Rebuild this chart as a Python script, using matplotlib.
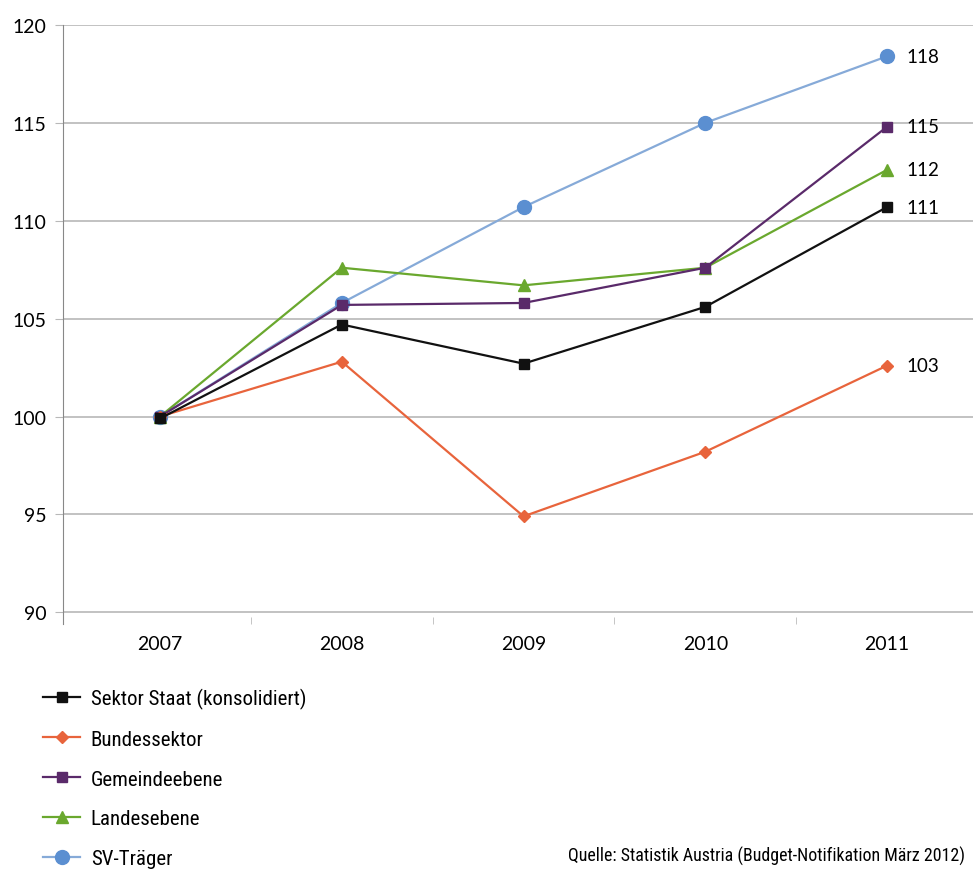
import matplotlib.pyplot as plt
import numpy as np
from matplotlib import font_manager

plt.rcParams['font.family'] = ['Lato', 'DejaVu Sans']

years = ['2007', '2008', '2009', '2010', '2011']
staat = [99.9, 104.7, 102.7, 105.6, 110.7]
bund = [100.0, 102.8, 94.9, 98.2, 102.6]
gemeinde = [100.0, 105.7, 105.8, 107.6, 114.8]
land = [100.0, 107.6, 106.7, 107.6, 112.6]
sv = [100.0, 105.8, 110.7, 115.0, 118.4]
end_labels = ['111', '103', '115', '112', '118']
names = ['Sektor Staat (konsolidiert)', 'Bundessektor', 'Gemeindeebene', 'Landesebene', 'SV-Träger']
source = 'Quelle: Statistik Austria (Budget-Notifikation März 2012)'

# narrow face for legend / source, if one is there
installed = {f.name for f in font_manager.fontManager.ttflist}
narrow = [n for n in ['Liberation Sans Narrow', 'DejaVu Sans Condensed', 'Roboto Condensed',
                      'Open Sans Condensed'] if n in installed]
narrow_fam = narrow + ['Lato', 'DejaVu Sans']

fig = plt.figure(figsize=(9.73, 8.78), dpi=100)
ax = fig.add_axes([63 / 973, 253 / 878, 1 - 63 / 973, (625 - 26) / 878])

x = np.arange(len(years))
series = [
    (staat, dict(color='#111111', marker='s', markersize=7, lw=1.6, zorder=6)),
    (bund, dict(color='#e8643c', marker='D', markersize=6, lw=1.6, zorder=5)),
    (gemeinde, dict(color='#5a2a6a', marker='s', markersize=7, lw=1.6, zorder=4)),
    (land, dict(color='#6aa82e', marker='^', markersize=8, lw=1.6, zorder=3)),
    (sv, dict(color='#86aad8', marker='o', markersize=10, markerfacecolor='#5b8fd1',
              markeredgecolor='#5b8fd1', lw=1.6, zorder=2)),
]
handles = []
for (vals, kw), name, lab in zip(series, names, end_labels):
    h, = ax.plot(x, vals, label=name, **kw)
    handles.append(h)
    ax.annotate(lab, (x[-1], vals[-1]), xytext=(14, 0), textcoords='offset points',
                va='center', ha='left', fontsize=13.5)

ax.set_xlim(-0.534, 4.473)
ax.set_ylim(89.4, 120)
ax.set_yticks([90, 95, 100, 105, 110, 115, 120])
ax.set_xticks(x)
ax.set_xticklabels(years)
ax.set_xticks(x[:-1] + 0.5, minor=True)
ax.grid(axis='y', color='#b8b8b8', lw=1.2)
ax.set_axisbelow(True)
for s in ['top', 'right', 'bottom']:
    ax.spines[s].set_visible(False)
ax.spines['left'].set_color('#888888')
ax.tick_params(axis='y', length=6, color='#b8b8b8', labelsize=14, pad=6)
ax.tick_params(axis='x', which='major', length=0, labelsize=14, pad=8)
ax.tick_params(axis='x', which='minor', length=5, color='#bbbbbb', direction='in')

fig.legend(handles=handles, loc='upper left', bbox_to_anchor=(24 / 973, 1 - 670 / 878),
           frameon=False, handlelength=1.8, labelspacing=1.0, handletextpad=0.5,
           prop=dict(family=narrow_fam, size=15))

fig.text(965 / 973, 1 - 856 / 878, source, fontsize=12.9, va='center', ha='right',
         family=narrow_fam)

fig.savefig('out.png', dpi=100)
